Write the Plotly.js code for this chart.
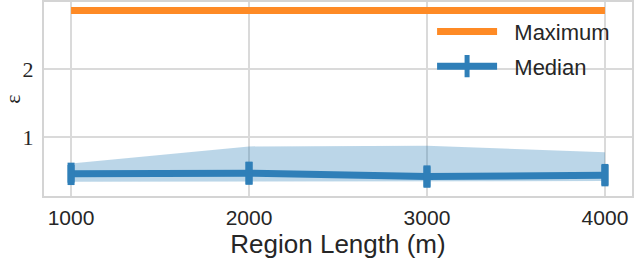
<!DOCTYPE html>
<html>
<head>
<meta charset="utf-8">
<script src="https://cdn.plot.ly/plotly-3.0.1.min.js"></script>
<style>html,body{margin:0;padding:0;background:#fff;}#chart{width:634px;height:260px;}</style>
</head>
<body>
<div id="chart"></div>
<script>
const regionLength = [1000, 2000, 3000, 4000];
const maximumEps = [2.86, 2.86, 2.86, 2.86];
const medianEps = [0.456, 0.466, 0.416, 0.437];
const medianErr = [0.13, 0.17, 0.15, 0.15];
const bandUpper = [0.61, 0.86, 0.87, 0.775];
const bandLower = [0.34, 0.34, 0.35, 0.35];
const xTicks = [1000, 2000, 3000, 4000];

const blue = '#2f7fb8';
const orange = '#fe8a25';
const pad = '\u00a0\u00a0';

const traces = [
  {x: regionLength, y: bandLower, mode: 'lines', line: {width: 0, color: 'rgba(0,0,0,0)'}, showlegend: false, hoverinfo: 'skip'},
  {x: regionLength, y: bandUpper, mode: 'lines', line: {width: 0, color: 'rgba(0,0,0,0)'}, fill: 'tonexty', fillcolor: 'rgba(31,119,180,0.3)', showlegend: false, hoverinfo: 'skip'},
  {x: regionLength, y: maximumEps, mode: 'lines', name: pad + 'Maximum', legendgroup: 'a', line: {color: orange, width: 7}},
  {x: regionLength, y: medianEps, mode: 'lines+markers', name: pad + 'Median', legendgroup: 'b', line: {color: blue, width: 7},
   marker: {symbol: 'line-ns', size: 16, color: blue, line: {color: blue, width: 7}},
   error_y: {type: 'data', array: medianErr, visible: true, color: blue, thickness: 7, width: 0}}
];

const layout = {
  width: 634, height: 260,
  margin: {l: 44, r: 2, t: 2, b: 64},
  paper_bgcolor: '#fff', plot_bgcolor: '#fff',
  showlegend: true,
  legend: {x: 0.66, y: 0.955, xanchor: 'left', yanchor: 'top', bgcolor: 'rgba(0,0,0,0)',
           traceorder: 'grouped', tracegroupgap: 3,
           font: {family: 'Liberation Sans, Arial, sans-serif', size: 22, color: '#262626'}, itemwidth: 60},
  xaxis: {range: [848, 4152], tickvals: xTicks, ticktext: xTicks.map(String),
          showgrid: true, gridcolor: '#dadada', gridwidth: 1.5, zeroline: false,
          showline: true, linecolor: '#d4d4d4', linewidth: 2, mirror: true,
          ticks: 'outside', ticklen: 2, tickcolor: 'rgba(0,0,0,0)',
          tickfont: {family: 'Liberation Sans, Arial, sans-serif', size: 21, color: '#262626'},
          title: {text: 'Region Length (m)', standoff: 6, font: {family: 'Liberation Sans, Arial, sans-serif', size: 26, color: '#262626'}}},
  yaxis: {range: [0.13, 2.985], dtick: 1, tick0: 0,
          showgrid: true, gridcolor: '#dadada', gridwidth: 1.5, zeroline: false,
          showline: true, linecolor: '#d4d4d4', linewidth: 2, mirror: true,
          ticks: 'outside', ticklen: 4, tickcolor: 'rgba(0,0,0,0)',
          tickfont: {family: 'Liberation Serif, serif', size: 22, color: '#262626'},
          title: {text: 'ε', standoff: 6, font: {family: 'Liberation Serif, serif', size: 22, color: '#262626'}}}
};

Plotly.newPlot('chart', traces, layout, {displayModeBar: false, staticPlot: true});
</script>
</body>
</html>
